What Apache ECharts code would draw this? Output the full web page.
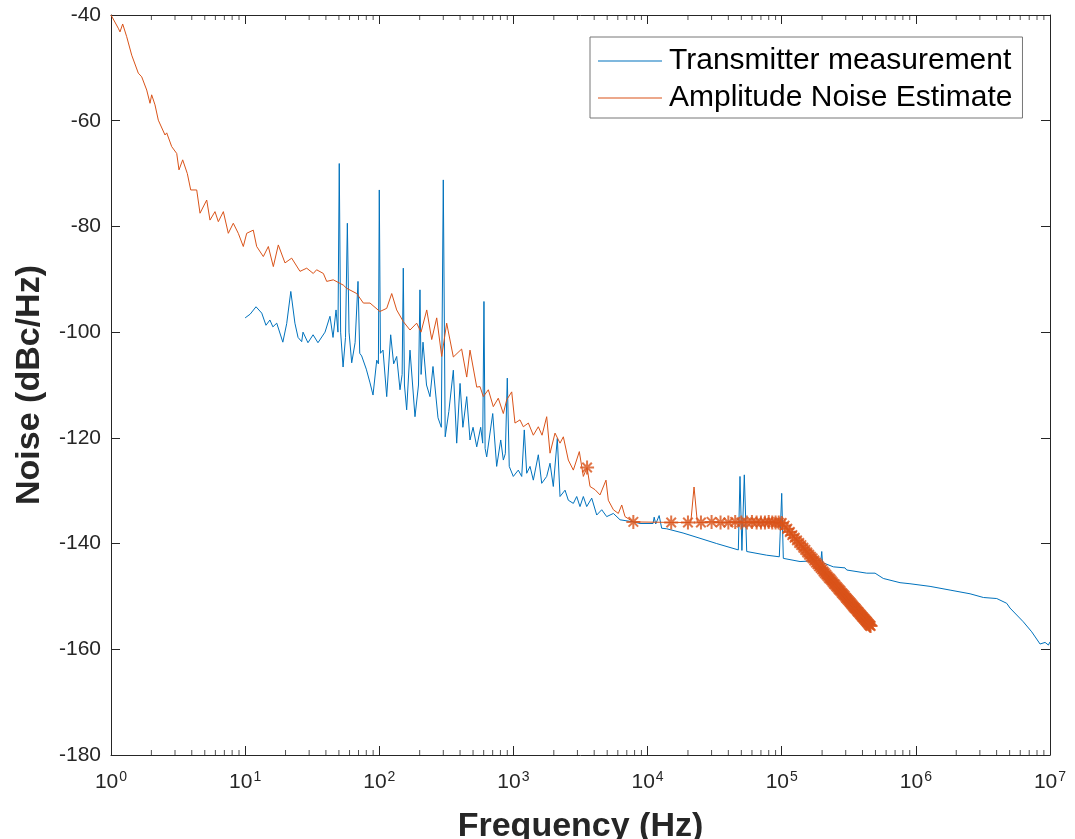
<!DOCTYPE html>
<html>
<head>
<meta charset="utf-8">
<script src="https://cdn.jsdelivr.net/npm/echarts@6/dist/echarts.min.js"></script>
<style>
  html, body { margin: 0; padding: 0; background: #fff; }
  #noiseChart { width: 1075px; height: 839px; }
</style>
</head>
<body>
<div id="noiseChart"></div>
<script>
// transmitter measurement (blue), Hz / dBc/Hz
var txFreq = [10, 10.9, 12.05, 13.3, 14.3, 15.3, 16.1, 17.2, 19.1, 20.4, 21.9, 23.5, 24.8, 26.4, 27, 29.4, 32.1, 34.9, 39.4, 42.9,
  45.2, 47.6, 49.2, 50.3, 51.5, 53.7, 56, 57.8, 59.5, 62.3, 66, 69.4, 71.5, 73.9, 80, 85.3, 89.8, 95.7, 98.5, 100,
  102, 106.6, 113.6, 121.6, 128, 134.8, 142.7, 148, 151, 154, 160, 169.4, 184.6, 196, 201, 205, 211.8, 225, 238.8, 251.4,
  274, 290, 300, 310, 330, 356.5, 377.6, 400, 420, 448.6, 474.6, 500, 532.6, 570, 590, 603, 615, 632, 701, 750,
  804, 841, 870, 900, 931, 998, 1087, 1153, 1205, 1256, 1330, 1407, 1533, 1625, 1770, 1874, 1983, 2124, 2225, 2425,
  2566, 2796, 2963, 3135, 3320, 3518, 3834, 4178, 4552, 4958, 5560, 6233, 7832, 8790, 10990, 11200, 11500, 12200, 12740, 13890,
  18380, 24590, 32760, 47480, 48860, 50500, 52620, 54830, 77290, 95950, 100000, 102800, 137000, 196000, 198800, 201500, 242500, 296500, 305300, 430300,
  496400, 571800, 762000, 904000, 1276000, 1799000, 2535000, 3187000, 4009000, 4757000, 5033000, 6324000, 7307000, 8434000, 9190000, 9730000, 10000000];
var txNoise = [-97.3, -96.6, -95.2, -96.4, -98.7, -97.7, -99.0, -98.3, -101.9, -98.4, -92.3, -98.3, -101.0, -101.8, -100.0, -102.0, -100.5, -102.0, -100.0, -97.0,
  -101.0, -95.8, -100.0, -68.1, -100.0, -106.6, -101.0, -79.4, -100.0, -105.8, -102.0, -90.4, -104.0, -104.5, -107.0, -109.6, -111.9, -105.3, -106.0, -73.1,
  -104.0, -103.4, -112.2, -100.5, -106.0, -104.6, -110.9, -108.0, -87.9, -110.0, -114.7, -103.4, -116.0, -110.0, -92.0, -108.0, -101.9, -110.0, -112.2, -106.5,
  -116.2, -118.0, -71.2, -119.8, -115.0, -107.2, -121.0, -109.7, -118.0, -112.2, -120.4, -118.0, -121.7, -118.0, -121.0, -94.2, -122.0, -123.6, -115.4, -125.4,
  -120.4, -124.2, -123.0, -108.7, -125.4, -127.3, -126.1, -127.3, -118.5, -126.7, -125.4, -128.0, -123.2, -128.6, -127.3, -124.8, -129.2, -120.1, -131.1, -129.9,
  -131.8, -132.4, -131.1, -133.0, -131.1, -133.0, -131.4, -134.6, -133.6, -134.9, -134.3, -135.5, -135.9, -136.2, -136.2, -135.0, -136.3, -134.7, -137.1, -137.2,
  -138.0, -139.0, -140.0, -141.2, -127.3, -141.3, -127.0, -141.5, -142.2, -142.5, -130.5, -142.8, -143.4, -143.2, -141.5, -143.6, -144.4, -144.6, -145.0, -145.6,
  -145.6, -146.6, -147.4, -147.6, -148.1, -148.8, -149.5, -150.2, -150.4, -151.3, -152.2, -154.8, -156.7, -159.0, -158.7, -159.2, -158.6];

// amplitude noise estimate (orange), continuous part
var estFreq = [1, 1.03, 1.133, 1.167, 1.222, 1.309, 1.427, 1.598, 1.694, 1.846, 1.954, 2.01, 2.128, 2.253, 2.527, 2.602, 2.835, 3.09, 3.213, 3.423,
  3.706, 3.93, 4.355, 4.61, 5.17, 5.47, 5.96, 6.31, 6.88, 7.49, 8.16, 8.89, 9.69, 10.27, 11.5, 12.19, 13.66, 14.89, 16.22, 17.67,
  19.82, 22.23, 25.64, 28.77, 32.2, 34.1, 38.3, 40.55, 45.4, 53.9, 57.1, 67.9, 76.1, 85.3, 101, 113.6, 123.8, 134.8, 151, 169.4,
  190, 204.7, 225.8, 246, 268, 292, 318, 356.5, 411, 448.6, 474.6, 532.6, 563.6, 596, 650, 708, 771, 841, 891, 971,
  1027, 1119, 1185, 1292, 1407, 1533, 1634, 1770, 1874, 2042, 2225, 2355, 2566, 2796, 3099, 3320, 3540, 3724, 4058, 4420,
  4898, 5097, 5560, 6053, 6418, 6790, 7832, 21000, 22200, 23500];
var estNoise = [-40.0, -40.1, -42.5, -43.2, -41.7, -44.1, -47.6, -51.0, -51.7, -54.2, -56.7, -55.1, -57.0, -59.9, -62.7, -62.3, -64.9, -66.2, -69.3, -67.4,
  -70.0, -73.1, -73.1, -77.5, -75.0, -78.8, -77.2, -79.1, -77.2, -81.3, -79.4, -81.3, -83.8, -81.3, -80.7, -83.8, -85.7, -83.8, -87.6, -83.5,
  -86.9, -86.0, -88.5, -87.9, -88.9, -88.2, -88.9, -90.4, -90.1, -91.1, -91.7, -92.7, -94.5, -94.5, -96.1, -95.5, -92.7, -95.8, -98.0, -99.6,
  -98.3, -100.0, -95.8, -101.4, -97.3, -104.6, -98.3, -104.7, -103.2, -108.5, -103.4, -110.4, -110.3, -112.2, -110.9, -114.1, -112.5, -115.4, -112.8, -111.3,
  -117.2, -116.6, -117.9, -117.2, -119.5, -117.9, -119.5, -116.0, -122.9, -119.1, -121.0, -119.8, -124.2, -126.1, -122.6, -127.3, -125.6, -129.2, -129.8, -130.8,
  -128.0, -131.8, -133.6, -134.3, -132.7, -134.9, -135.9, -136.0, -129.3, -136.0];

// estimate points drawn with asterisks
var starFreq = [3540, 7832, 15000, 20000, 25000, 30000, 35000, 40000, 45000, 50000, 55000, 60000, 65000, 70000, 75000, 80000, 85000, 90000, 95000, 100000,
  105000, 110000, 115000, 120000, 125000, 130000, 135000, 140000, 145000, 150000, 155000, 160000, 165000, 170000, 175000, 180000, 185000, 190000, 195000, 200000,
  205000, 210000, 215000, 220000, 225000, 230000, 235000, 240000, 245000, 250000, 255000, 260000, 265000, 270000, 275000, 280000, 285000, 290000, 295000, 300000,
  305000, 310000, 315000, 320000, 325000, 330000, 335000, 340000, 345000, 350000, 355000, 360000, 365000, 370000, 375000, 380000, 385000, 390000, 395000, 400000,
  405000, 410000, 415000, 420000, 425000, 430000, 435000, 440000, 445000, 450000, 455000, 460000];
var starNoise = [-125.6, -135.9, -136.0, -136.0, -136.0, -135.9, -136.0, -136.0, -135.9, -136.0, -136.0, -135.9, -136.0, -136.0, -136.0, -135.9, -136.0, -136.0, -136.0, -136.1,
  -136.6, -137.2, -137.8, -138.4, -138.9, -139.4, -139.9, -140.3, -140.8, -141.2, -141.7, -142.1, -142.5, -142.8, -143.2, -143.6, -143.9, -144.3, -144.6, -144.9,
  -145.3, -145.6, -145.9, -146.2, -146.5, -146.7, -147.0, -147.3, -147.6, -147.8, -148.1, -148.3, -148.6, -148.8, -149.0, -149.3, -149.5, -149.7, -149.9, -150.2,
  -150.4, -150.6, -150.8, -151.0, -151.2, -151.4, -151.6, -151.8, -152.0, -152.2, -152.3, -152.5, -152.7, -152.9, -153.0, -153.2, -153.4, -153.5, -153.7, -153.9,
  -154.0, -154.2, -154.3, -154.5, -154.6, -154.8, -154.9, -155.1, -155.2, -155.4, -155.5, -155.6];

var minorMult = [2, 3, 4, 5, 6, 7, 8, 9];
var decades = [0, 1, 2, 3, 4, 5, 6];

var blue = '#0072BD';
var orange = '#D95319';
var axisGray = '#262626';
var font = 'Liberation Sans';

function pairs(xs, ys) {
  return xs.map(function (x, i) { return [x, ys[i]]; });
}

var txData = pairs(txFreq, txNoise);
var starData = pairs(starFreq, starNoise);
var estData = pairs(estFreq, estNoise).concat(pairs(starFreq.slice(2), starNoise.slice(2)));
estData.sort(function (a, b) { return a[0] - b[0]; });

var minorBottom = [], minorTop = [];
decades.forEach(function (d) {
  minorMult.forEach(function (m) {
    minorBottom.push([m * Math.pow(10, d), -180]);
    minorTop.push([m * Math.pow(10, d), -40]);
  });
});

var asterisk = 'path://M5,0L5,10M0,5L10,5M1.6,1.6L8.4,8.4M1.6,8.4L8.4,1.6';

var logAxisBase = {
  type: 'log',
  logBase: 10,
  min: 1,
  max: 1e7,
  splitNumber: 7,
  splitLine: { show: false },
  axisLine: { show: true, onZero: false, lineStyle: { color: axisGray, width: 1 } },
  axisTick: { show: true, inside: true, length: 9, lineStyle: { color: axisGray } },
  minorTick: { show: false }
};

var valAxisBase = {
  type: 'value',
  min: -180,
  max: -40,
  interval: 20,
  splitLine: { show: false },
  axisLine: { show: true, onZero: false, lineStyle: { color: axisGray, width: 1 } },
  axisTick: { show: true, inside: true, length: 9, lineStyle: { color: axisGray } }
};

var option = {
  backgroundColor: '#fff',
  animation: false,
  textStyle: { fontFamily: font },
  grid: { left: 111, right: 25, top: 15, bottom: 84, containLabel: false, outerBoundsMode: 'none' },
  legend: {
    data: [
      { name: 'Transmitter measurement', icon: 'rect' },
      { name: 'Amplitude Noise Estimate', icon: 'rect' }
    ],
    orient: 'vertical',
    left: 590,
    top: 37,
    padding: [9, 10, 5, 8],
    itemWidth: 64,
    itemHeight: 1,
    itemGap: 7,
    borderColor: '#777',
    borderWidth: 1,
    borderRadius: 0,
    backgroundColor: '#fff',
    textStyle: { fontSize: 30, color: '#000', fontFamily: font, padding: [0, 0, 0, 2] }
  },
  xAxis: [
    Object.assign({}, logAxisBase, {
      position: 'bottom',
      name: 'Frequency (Hz)',
      nameLocation: 'middle',
      nameGap: 55,
      nameTextStyle: { fontSize: 34, fontWeight: 'bold', color: '#262626', fontFamily: font },
      axisLabel: {
        color: '#262626',
        fontSize: 21,
        margin: 15,
        formatter: function (v) {
          return '10{sup|' + Math.round(Math.log10(v)) + '}';
        },
        rich: {
          sup: { fontSize: 14, verticalAlign: 'top', padding: [0, 0, 11, 1], color: '#262626' }
        }
      }
    }),
    Object.assign({}, logAxisBase, {
      position: 'top',
      axisLabel: { show: false }
    })
  ],
  yAxis: [
    Object.assign({}, valAxisBase, {
      position: 'left',
      name: 'Noise (dBc/Hz)',
      nameLocation: 'middle',
      nameGap: 64,
      nameTextStyle: { fontSize: 34, fontWeight: 'bold', color: '#262626', fontFamily: font },
      axisLabel: { color: '#262626', fontSize: 21, margin: 10 }
    }),
    Object.assign({}, valAxisBase, {
      position: 'right',
      axisLabel: { show: false }
    })
  ],
  series: [
    {
      name: 'Transmitter measurement',
      type: 'line',
      data: txData,
      symbol: 'none',
      lineStyle: { color: blue, width: 1 },
      itemStyle: { color: blue },
      z: 2
    },
    {
      name: 'Amplitude Noise Estimate',
      type: 'line',
      data: estData,
      symbol: 'none',
      lineStyle: { color: orange, width: 1 },
      itemStyle: { color: orange },
      z: 3
    },
    {
      name: 'estimate points',
      type: 'scatter',
      data: starData,
      symbol: asterisk,
      symbolSize: 14,
      itemStyle: { color: 'rgba(0,0,0,0)', borderColor: orange, borderWidth: 2 },
      silent: true,
      z: 4
    },
    {
      name: 'minor ticks bottom',
      type: 'scatter',
      data: minorBottom,
      symbol: 'rect',
      symbolSize: [1, 5],
      symbolOffset: [0, -2.5],
      itemStyle: { color: axisGray },
      silent: true,
      z: 5
    },
    {
      name: 'minor ticks top',
      type: 'scatter',
      data: minorTop,
      symbol: 'rect',
      symbolSize: [1, 5],
      symbolOffset: [0, 2.5],
      itemStyle: { color: axisGray },
      silent: true,
      z: 5
    }
  ]
};

var chart = echarts.init(document.getElementById('noiseChart'));
chart.setOption(option);
window.onresize = chart.resize;
</script>
</body>
</html>
